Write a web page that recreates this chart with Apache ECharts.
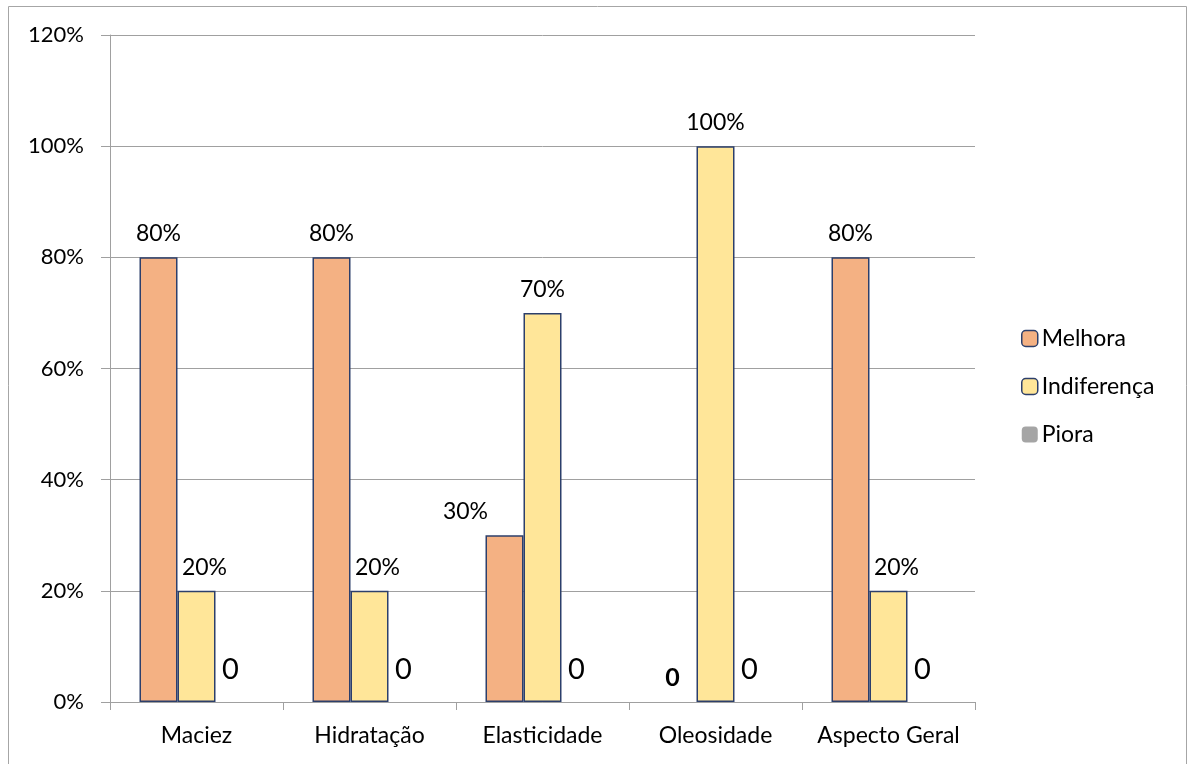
<!DOCTYPE html>
<html>
<head>
<meta charset="utf-8">
<script src="https://cdn.jsdelivr.net/npm/echarts@6/dist/echarts.min.js"></script>
<style>
  html, body { margin: 0; padding: 0; background: #ffffff; }
  #chart { width: 1188px; height: 764px; }
</style>
</head>
<body>
<div id="chart"></div>
<script>
// Avaliação dos atributos da pele (percentual de respostas)
const categories = ['Maciez', 'Hidratação', 'Elasticidade', 'Oleosidade', 'Aspecto Geral'];
const melhora = [80, 80, 30, 0, 80];
const indiferenca = [20, 20, 70, 100, 20];
const piora = [0, 0, 0, 0, 0];
const yTicks = { min: 0, max: 120, interval: 20 };

const FONT = 'Lato, "Open Sans", sans-serif';
const BORDER = '#2c3f6b';

// Build bar items: zero-height bars get no outline; a value label is nudged
// sideways when the neighbouring bar is taller and would cover it.
function barItems(values, neighbour, shiftX) {
  return values.map((v, i) => {
    const item = { value: v };
    if (v === 0) item.itemStyle = { borderWidth: 0 };
    if (v > 0 && neighbour[i] > v) item.label = { offset: [shiftX, 0] };
    return item;
  });
}

const chart = echarts.init(document.getElementById('chart'), null, { renderer: 'canvas' });

const pctLabel = {
  show: true,
  position: 'top',
  distance: 12,
  fontFamily: FONT,
  fontSize: 23,
  color: '#000',
  formatter: p => p.value + '%'
};

chart.setOption({
  animation: false,
  backgroundColor: '#ffffff',
  textStyle: { fontFamily: FONT },
  graphic: [{
    type: 'rect',
    shape: { x: 8.5, y: 6.5, width: 1178, height: 780 },
    style: { fill: 'none', stroke: '#a6a6a6', lineWidth: 1 },
    silent: true
  }],
  grid: { left: 110, right: 213, top: 35, bottom: 62, containLabel: false },
  legend: {
    orient: 'vertical',
    left: 1016,
    top: 322,
    itemWidth: 16,
    itemHeight: 16,
    itemGap: 25,
    textStyle: { fontFamily: FONT, fontSize: 23, color: '#000', padding: [0, 0, 0, -1] },
    data: [
      { name: 'Melhora', itemStyle: { color: '#f4b183', borderColor: BORDER, borderWidth: 1.5 } },
      { name: 'Indiferença', itemStyle: { color: '#ffe699', borderColor: BORDER, borderWidth: 1.5 } },
      { name: 'Piora', itemStyle: { color: '#a5a5a5', borderWidth: 0 } }
    ]
  },
  xAxis: {
    type: 'category',
    data: categories,
    boundaryGap: true,
    axisLine: { lineStyle: { color: '#a0a0a0', width: 1 } },
    axisTick: { show: true, interval: 0, length: 8, lineStyle: { color: '#a0a0a0' } },
    axisLabel: { interval: 0, hideOverlap: false, fontFamily: FONT, fontSize: 23, color: '#000', margin: 22 }
  },
  yAxis: {
    type: 'value',
    min: yTicks.min,
    max: yTicks.max,
    interval: yTicks.interval,
    axisLine: { show: true, lineStyle: { color: '#a0a0a0', width: 1 } },
    axisTick: { show: true, length: 9, lineStyle: { color: '#a0a0a0' } },
    axisLabel: { fontFamily: FONT, fontSize: 22, color: '#000', margin: 26, formatter: '{value}%' },
    splitLine: { show: true, lineStyle: { color: '#a0a0a0', width: 1 } }
  },
  series: [
    {
      name: 'Melhora',
      type: 'bar',
      data: barItems(melhora, indiferenca, -39),
      barWidth: 38,
      barGap: '0%',
      itemStyle: { color: '#f4b183', borderColor: BORDER, borderWidth: 1.5 },
      label: {
        ...pctLabel,
        formatter: p => p.value > 0 ? p.value + '%' : '{z|0}',
        rich: { z: { fontFamily: FONT, fontSize: 25, fontWeight: 'bold', color: '#000', padding: [0, 10, 0, 0] } }
      }
    },
    {
      name: 'Indiferença',
      type: 'bar',
      data: barItems(indiferenca, melhora, 8),
      barWidth: 38,
      barGap: '0%',
      itemStyle: { color: '#ffe699', borderColor: BORDER, borderWidth: 1.5 },
      label: pctLabel
    },
    {
      name: 'Piora',
      type: 'bar',
      data: piora,
      barWidth: 38,
      barGap: '0%',
      itemStyle: { color: '#a5a5a5' },
      label: {
        show: true,
        position: 'top',
        distance: 18,
        fontFamily: FONT,
        fontSize: 29,
        color: '#000',
        formatter: p => String(p.value),
        padding: [0, 8, 0, 0]
      }
    }
  ]
});
</script>
</body>
</html>
